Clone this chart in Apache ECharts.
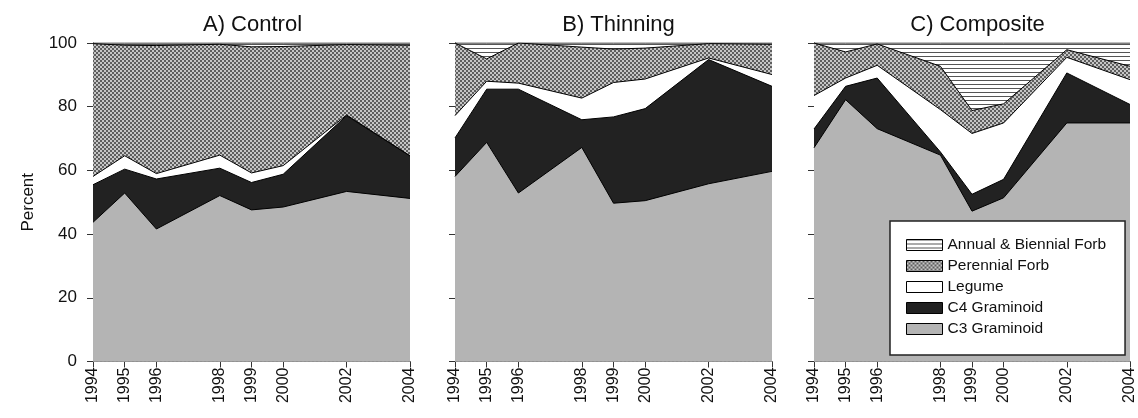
<!DOCTYPE html>
<html><head><meta charset="utf-8">
<script src="https://cdn.jsdelivr.net/npm/echarts@6/dist/echarts.min.js"></script>
<style>html,body{margin:0;padding:0;background:#fff}#c{width:1138px;height:418px}</style>
</head><body><div id="c"></div>
<script>
// ---- data ----
const years = [1994, 1995, 1996, 1998, 1999, 2000, 2002, 2004];
const yTicks = [0, 20, 40, 60, 80, 100];
const panelTitles = ['A) Control', 'B) Thinning', 'C) Composite'];
const seriesNames = ['C3 Graminoid', 'C4 Graminoid', 'Legume', 'Perennial Forb', 'Annual & Biennial Forb'];

// Control
const controlC3 = [43.7, 52.9, 41.6, 52.1, 47.6, 48.5, 53.4, 51.2];
const controlC4 = [11.8, 7.5, 15.7, 8.6, 8.6, 10.3, 23.8, 13.3];
const controlLegume = [2.6, 4.2, 1.7, 4.1, 3.0, 2.7, 0.2, 0.1];
const controlPerennial = [41.7, 34.7, 40.2, 34.8, 39.6, 37.4, 22.1, 34.7];
const controlAnnual = [0.2, 0.7, 0.8, 0.4, 1.2, 1.1, 0.5, 0.7];

// Thinning
const thinC3 = [58.1, 68.8, 52.9, 67.2, 49.7, 50.5, 55.8, 59.7];
const thinC4 = [12.1, 16.7, 32.6, 8.7, 27.1, 28.9, 39.0, 26.7];
const thinLegume = [7.0, 2.5, 1.9, 6.8, 10.8, 9.3, 0.5, 3.7];
const thinPerennial = [22.8, 7.0, 12.6, 16.0, 10.5, 9.7, 4.5, 9.5];
const thinAnnual = [0.0, 5.0, 0.0, 1.3, 1.9, 1.6, 0.2, 0.4];

// Composite
const compC3 = [67.1, 82.2, 73.1, 64.8, 47.2, 51.4, 74.9, 74.9];
const compC4 = [5.9, 4.2, 15.9, 1.0, 5.3, 5.8, 15.7, 5.8];
const compLegume = [10.5, 2.6, 4.0, 13.3, 19.1, 17.7, 4.9, 7.8];
const compPerennial = [16.5, 8.2, 6.7, 13.6, 7.2, 6.0, 2.4, 4.2];
const compAnnual = [0.0, 2.8, 0.3, 7.3, 21.2, 19.1, 2.1, 7.3];

const panels = [
  [controlC3, controlC4, controlLegume, controlPerennial, controlAnnual],
  [thinC3, thinC4, thinLegume, thinPerennial, thinAnnual],
  [compC3, compC4, compLegume, compPerennial, compAnnual]
];

// ---- patterns ----
function crossHatch() {
  const c = document.createElement('canvas'); c.width = 4; c.height = 4;
  const g = c.getContext('2d');
  g.fillStyle = '#c6c6c6'; g.fillRect(0, 0, 4, 4);
  g.fillStyle = '#5e5e5e';
  g.fillRect(0, 0, 2, 2); g.fillRect(2, 2, 2, 2);
  return c;
}
function hLines() {
  const c = document.createElement('canvas'); c.width = 4; c.height = 4;
  const g = c.getContext('2d');
  g.fillStyle = '#ffffff'; g.fillRect(0, 0, 4, 4);
  g.fillStyle = '#555555'; g.fillRect(0, 0, 4, 1);
  return c;
}
const fills = [
  '#b4b4b4',
  '#222222',
  '#ffffff',
  { image: crossHatch(), repeat: 'repeat' },
  { image: hLines(), repeat: 'repeat' }
];

const lefts = [93, 455, 814];
const pw = 317, ptop = 43, ph = 318.5;
const font = 'Liberation Sans, Arial, sans-serif';

const grid = [], xAxis = [], yAxis = [], series = [], title = [];
panels.forEach((p, i) => {
  grid.push({ left: lefts[i], top: ptop, width: pw, height: ph });
  title.push({ text: panelTitles[i], left: lefts[i] + pw / 2 - (i === 0 ? 4 : 0), top: 9, textAlign: 'center',
    textStyle: { fontFamily: font, fontSize: 22, fontWeight: 'normal', color: '#111' } });
  xAxis.push({ type: 'value', gridIndex: i, min: 1994, max: 2004,
    axisLine: { show: true, lineStyle: { color: '#333', width: 1 } },
    axisTick: { show: true, length: 6, customValues: years, lineStyle: { color: '#333' } },
    axisLabel: { customValues: years, rotate: 90, fontFamily: font, fontSize: 16, color: '#111', margin: 6,
      formatter: v => String(v) },
    splitLine: { show: false } });
  yAxis.push({ type: 'value', gridIndex: i, min: 0, max: 100, interval: 20,
    name: i === 0 ? 'Percent' : '', nameLocation: 'middle', nameGap: 56,
    nameTextStyle: { fontFamily: font, fontSize: 17, color: '#111' },
    axisLine: { show: true, lineStyle: { color: '#333', width: 1 } },
    axisTick: { show: true, length: 6, lineStyle: { color: '#333' } },
    axisLabel: { show: i === 0, fontFamily: font, fontSize: 17, color: '#111', margin: 16 },
    splitLine: { show: false } });
  // cumulative tops; each layer fills down to 0, upper layers drawn beneath lower ones
  const cum = years.map(() => 0);
  p.forEach((vals, k) => {
    const tops = vals.map((v, j) => (cum[j] += v));
    series.push({
      name: seriesNames[k], type: 'line', xAxisIndex: i, yAxisIndex: i,
      symbol: 'none', showSymbol: false, z: 10 - k,
      data: years.map((y, j) => [y, Math.min(100, +tops[j].toFixed(2))]),
      lineStyle: { color: '#000', width: 1 },
      itemStyle: { color: fills[k], borderColor: '#000', borderWidth: 1 },
      areaStyle: { color: fills[k], opacity: 1, origin: 'start' }
    });
  });
});

const chart = echarts.init(document.getElementById('c'), null, { renderer: 'canvas' });
chart.setOption({
  animation: false,
  backgroundColor: '#fff',
  title,
  grid, xAxis, yAxis, series,
  legend: {
    data: seriesNames.slice().reverse(),
    orient: 'vertical', left: 890, top: 221, z: 20,
    icon: 'rect', itemWidth: 36, itemHeight: 11, itemGap: 5,
    padding: [16, 19, 18, 16],
    backgroundColor: '#fff', borderColor: '#222', borderWidth: 1.5,
    itemStyle: { borderColor: '#000', borderWidth: 1 },
    textStyle: { fontFamily: font, fontSize: 15.5, color: '#111' },
    selectedMode: false
  }
});
</script></body></html>
